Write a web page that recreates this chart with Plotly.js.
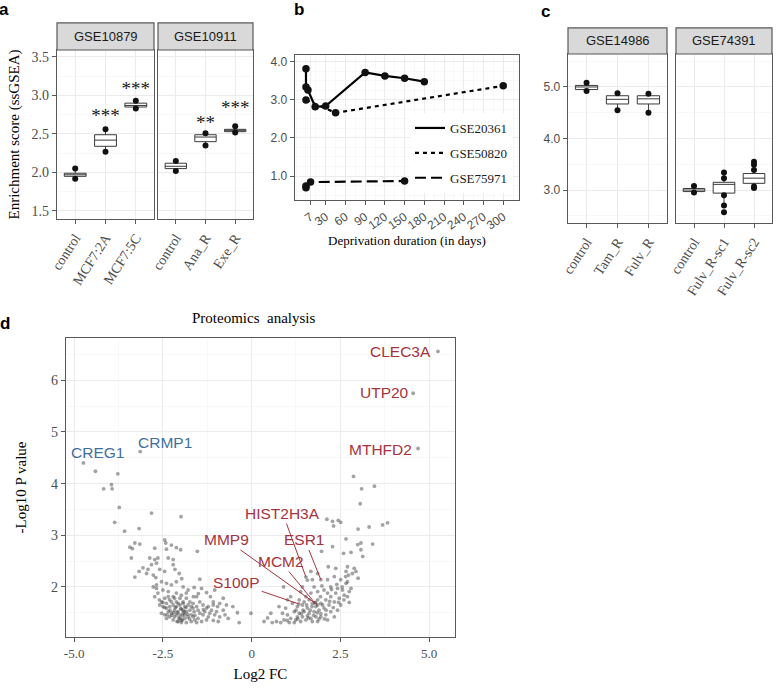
<!DOCTYPE html>
<html>
<head>
<meta charset="utf-8">
<script src="https://cdn.plot.ly/plotly-3.0.1.min.js"></script>
<style>
  body { margin: 0; background: #fff; }
  #plot { width: 778px; height: 688px; }
</style>
</head>
<body>
<div id="plot"></div>
<script>
// ---- panel a : ssGSEA enrichment, two datasets ----
const aCats1 = ['control', 'MCF7:2A', 'MCF7:5C'];
const aMin1 = [1.92, 2.27, 2.83];
const aQ1_1 = [1.95, 2.34, 2.85];
const aMed1 = [1.97, 2.42, 2.87];
const aQ3_1 = [1.99, 2.49, 2.90];
const aMax1 = [2.05, 2.56, 2.93];
const aStars1 = ['', '***', '***'];
const aStarY1 = [null, 2.72, 3.07];

const aCats2 = ['control', 'Ana_R', 'Exe_R'];
const aMin2 = [2.02, 2.35, 2.52];
const aQ1_2 = [2.05, 2.40, 2.53];
const aMed2 = [2.08, 2.46, 2.55];
const aQ3_2 = [2.12, 2.49, 2.56];
const aMax2 = [2.15, 2.51, 2.60];
const aStars2 = ['', '**', '***'];
const aStarY2 = [null, 2.63, 2.82];

// ---- panel b : score over deprivation time ----
const bDays20361 = [0, 0, 3, 14, 30, 90, 120, 150, 180];
const bScore20361 = [3.82, 3.34, 3.26, 2.82, 2.84, 3.72, 3.63, 3.57, 3.48];
const bDays50820 = [0, 45, 300];
const bScore50820 = [3.00, 2.66, 3.37];
const bDays75971 = [0, 0, 7, 150];
const bScore75971 = [0.69, 0.74, 0.84, 0.87];
const bTicks = [7, 30, 60, 90, 120, 150, 180, 210, 240, 270, 300];

// ---- panel c : two more datasets ----
const cCats1 = ['control', 'Tam_R', 'Fulv_R'];
const cMin1 = [4.92, 4.55, 4.50];
const cQ1_1 = [4.95, 4.67, 4.67];
const cMed1 = [5.00, 4.76, 4.77];
const cQ3_1 = [5.03, 4.83, 4.83];
const cMax1 = [5.08, 4.88, 4.87];

const cCats2 = ['control', 'Fulv_R-sc1', 'Fulv_R-sc2'];
const cMin2 = [2.95, 2.70, 3.04];
const cQ1_2 = [2.97, 2.94, 3.13];
const cMed2 = [3.00, 3.11, 3.23];
const cQ3_2 = [3.03, 3.15, 3.32];
const cMax2 = [3.08, 3.34, 3.55];
const cPtsCat2 = ['control', 'control', 'Fulv_R-sc1', 'Fulv_R-sc1', 'Fulv_R-sc1', 'Fulv_R-sc1', 'Fulv_R-sc1',
  'Fulv_R-sc2', 'Fulv_R-sc2', 'Fulv_R-sc2', 'Fulv_R-sc2', 'Fulv_R-sc2'];
const cPtsY2 = [3.08, 2.95, 3.34, 3.23, 2.90, 2.70, 2.57, 3.55, 3.49, 3.39, 3.07, 3.04];

// ---- panel d : proteomics volcano ----
const downFC = [
  -4.40, -3.77, -4.17, -3.95, -3.93, -3.73, -3.86, -2.82, -1.99, -3.58,
  -3.17, -3.43, -3.36, -3.29, -3.15, -3.39, -2.45, -2.42, -2.40, -2.73,
  -2.26, -2.12, -2.00, -1.53, -2.87, -2.73, -2.64, -2.35, -2.21, -2.82,
  -2.68, -3.06, -2.92, -3.17, -3.29, -2.96, -2.77, -2.70, -2.59, -2.45,
  -2.21, -2.16, -2.04, -1.97, -2.54, -2.40, -2.26, -2.68, -2.77, -2.12,
  -1.93, -1.79, -1.62, -1.46, -1.64, -1.50, -1.41, -1.27, -1.16, -1.04,
  -0.80, -0.71, -0.96, -1.08, -1.22, -1.36, -0.40, -0.02, -0.35, -0.53,
  -2.54, -2.45, -2.40, -2.31, -2.21, -2.31, -2.21, -2.12, -2.02, -1.93,
  -1.88, -1.98, -2.07, -2.17, -2.26, -2.35, -2.40, -2.50, -2.59, -2.45,
  -2.31, -2.17, -2.02, -1.93, -1.84, -1.74, -1.65, -1.55, -1.70, -1.79,
  -1.88, -1.98, -2.07, -1.98, -1.84, -1.70, -1.60, -1.51, -1.41, -1.55,
  -1.27, -1.08, -0.94, -0.90, -1.04, -1.18, -1.32, -1.46, -1.65, -1.74,
  -1.84, -1.98, -2.12, -2.35, -2.50, -2.64, -2.73, -2.68, -2.12, -2.02,
  -1.93, -2.21, -2.40, -2.54, -2.35, -2.26, -2.17, -2.07, -1.88, -1.79,
  -1.70, -1.51, -1.37, -1.22, -1.65, -2.02, -2.12, -1.93, -1.84, -1.55,
  -1.46, -1.37, -1.27, -1.13, -0.99, -0.80, -1.08, -0.90, -0.75, -0.66,
  -2.05, -1.95, -2.10, -1.90, -2.00, -1.85, -2.25, -2.15, -1.80, -1.75,
  -2.30, -2.45, -2.20, -1.95, -2.10, -1.60, -1.62, -2.38, -2.50, -2.60
];
const downLogP = [
  4.24, 4.19, 3.90, 3.98, 3.90, 3.54, 3.25, 3.43, 3.36, 3.08,
  3.13, 2.77, 2.74, 2.85, 2.83, 2.56, 2.91, 2.85, 2.73, 2.75,
  2.81, 2.76, 2.72, 2.69, 2.56, 2.53, 2.56, 2.56, 2.53, 2.43,
  2.46, 2.37, 2.34, 2.30, 2.19, 2.26, 2.23, 2.18, 2.34, 2.30,
  2.43, 2.34, 2.26, 2.16, 2.10, 2.07, 2.04, 2.04, 2.00, 2.10,
  2.00, 1.94, 1.99, 2.15, 1.81, 1.87, 1.97, 1.89, 1.81, 1.94,
  1.78, 1.65, 1.62, 1.65, 1.62, 1.56, 1.50, 1.49, 1.31, 1.62,
  1.71, 1.78, 1.68, 1.75, 1.81, 1.62, 1.65, 1.71, 1.78, 1.68,
  1.62, 1.57, 1.52, 1.55, 1.49, 1.52, 1.59, 1.62, 1.65, 1.46,
  1.42, 1.42, 1.46, 1.49, 1.52, 1.55, 1.59, 1.62, 1.46, 1.42,
  1.39, 1.35, 1.33, 1.31, 1.31, 1.33, 1.36, 1.39, 1.33, 1.31,
  1.36, 1.35, 1.33, 1.42, 1.46, 1.49, 1.52, 1.49, 1.68, 1.71,
  1.78, 1.84, 1.88, 1.91, 1.94, 1.88, 1.81, 1.97, 1.62, 1.65,
  1.55, 1.36, 1.39, 1.49, 1.81, 1.71, 1.78, 1.68, 1.46, 1.65,
  1.62, 1.55, 1.46, 1.42, 1.42, 1.39, 1.46, 1.71, 1.88, 1.81,
  1.71, 1.65, 1.59, 1.55, 1.52, 1.55, 1.71, 1.68, 1.46, 1.39,
  1.40, 1.44, 1.50, 1.52, 1.58, 1.60, 1.45, 1.60, 1.47, 1.38,
  1.55, 1.60, 1.50, 1.36, 1.33, 1.45, 1.52, 1.46, 1.70, 1.75
];
const upFC = [
  2.87, 3.10, 3.46, 3.06, 2.12, 2.28, 2.44, 2.51, 2.31, 3.00,
  3.31, 3.69, 3.83, 2.66, 2.99, 3.08, 3.41, 2.28, 1.97, 3.08,
  2.59, 2.80, 3.13, 2.89, 2.94, 3.00, 2.70, 2.66, 2.73, 2.37,
  2.16, 1.67, 1.86, 1.57, 2.14, 2.33, 2.51, 2.66, 2.23, 2.42,
  2.56, 2.04, 1.86, 1.67, 1.53, 1.34, 1.10, 1.01, 0.77, 0.54,
  0.35, 0.58, 0.91, 0.82, 0.90, 1.38, 1.43, 1.76, 1.71, 2.84,
  1.15, 1.29, 1.43, 1.57, 1.71, 1.81, 1.95, 2.09, 2.23, 2.37, 1.94, 2.14, 1.86, 1.62, 1.48,
  1.20, 1.34, 1.48, 1.62, 1.76, 1.90, 2.04, 2.18, 2.33, 2.47, 2.61,
  1.10, 1.24, 1.38, 1.53, 1.67, 1.81, 1.95, 2.09, 2.23, 1.43, 1.29, 1.57, 1.71,
  1.86, 2.14, 2.33, 2.42, 2.51, 2.70, 2.75, 2.80, 1.01, 0.87, 0.96, 1.06, 1.20,
  1.75, 1.65, 1.85, 1.95, 2.00, 1.55, 1.45, 1.30, 1.90, 2.10, 1.70, 1.80, 2.20, 1.60, 2.05,
  1.40, 2.30, 2.45, 2.55, 2.60, 2.40, 2.25, 1.98, 2.65, 2.70, 2.75, 1.25, 1.00, 0.70, 0.45
];
const upLogP = [
  4.14, 3.90, 3.95, 3.61, 3.31, 3.27, 3.29, 3.25, 3.18, 3.12,
  3.16, 3.20, 3.24, 2.93, 2.82, 2.85, 2.83, 2.78, 2.69, 2.72,
  2.65, 2.67, 2.59, 2.36, 2.30, 2.17, 2.39, 2.30, 2.23, 2.36,
  2.39, 2.30, 2.26, 2.13, 2.14, 2.20, 2.14, 2.07, 2.00, 1.97,
  1.94, 1.94, 1.91, 1.88, 1.81, 1.75, 1.81, 1.75, 1.62, 1.49,
  1.33, 1.31, 1.36, 1.31, 2.00, 1.91, 2.00, 2.00, 2.14, 2.26,
  1.68, 1.62, 1.65, 1.59, 1.68, 1.62, 1.68, 1.75, 1.81, 1.88, 1.81, 1.88, 1.75, 1.75, 1.71,
  1.52, 1.49, 1.52, 1.49, 1.52, 1.55, 1.59, 1.65, 1.71, 1.78, 1.84,
  1.39, 1.36, 1.33, 1.36, 1.39, 1.42, 1.42, 1.46, 1.52, 1.42, 1.42, 1.44, 1.33,
  1.33, 1.36, 1.42, 1.55, 1.65, 1.81, 1.91, 1.97, 1.46, 1.49, 1.59, 1.31, 1.31,
  1.45, 1.55, 1.50, 1.48, 1.65, 1.65, 1.55, 1.38, 1.38, 1.55, 1.62, 1.70, 1.72, 1.40, 1.38,
  1.48, 1.60, 1.70, 2.00, 1.75, 2.05, 1.95, 2.02, 2.20, 2.10, 1.70, 1.55, 1.35, 1.33, 1.40
];
const geneNames = ['CLEC3A', 'UTP20', 'MTHFD2', 'CREG1', 'CRMP1', 'HIST2H3A', 'ESR1', 'MMP9', 'MCM2', 'S100P'];
const geneFC = [5.25, 4.55, 4.69, -4.74, -3.14, 1.53, 1.95, 1.86, 1.78, 1.33];
const geneLogP = [6.56, 5.75, 4.68, 4.40, 4.62, 2.19, 2.14, 1.65, 1.69, 1.67];
// where the repelled labels sit (text centres)
const labelFC = [4.19, 3.74, 3.62, -4.35, -2.43, 0.88, 1.50, -0.71, 0.82, -0.42];
const labelLogP = [6.56, 5.77, 4.66, 4.60, 4.80, 3.42, 2.91, 2.91, 2.49, 2.08];

const serif = 'Liberation Serif, Times New Roman, serif';
const sans = 'Liberation Sans, Arial, sans-serif';
const red = '#a5333d';
const blue = '#3f6f9f';
const frameCol = '#595959';

function boxTrace(cats, lo, q1, med, q3, hi, xa, ya) {
  return {
    type: 'box', x: cats, lowerfence: lo, q1: q1, median: med, q3: q3, upperfence: hi,
    xaxis: xa, yaxis: ya, width: 0.72, whiskerwidth: 0, boxpoints: false,
    fillcolor: 'white', line: {color: '#3a3a3a', width: 1}, showlegend: false, hoverinfo: 'skip'
  };
}

function dots(x, y, xa, ya, size) {
  return {
    type: 'scatter', mode: 'markers', x: x, y: y, xaxis: xa, yaxis: ya,
    marker: {color: '#111', size: size}, showlegend: false, hoverinfo: 'skip'
  };
}

function stars(x, txt, y, xa, ya) {
  return {
    type: 'scatter', mode: 'text', x: x, y: y, text: txt, xaxis: xa, yaxis: ya,
    textfont: {family: serif, size: 19, color: '#1a1a1a'}, showlegend: false, hoverinfo: 'skip'
  };
}

const traces = [
  boxTrace(aCats1, aMin1, aQ1_1, aMed1, aQ3_1, aMax1, 'x', 'y'),
  dots(aCats1.concat(aCats1), aMin1.concat(aMax1), 'x', 'y', 6),
  stars(aCats1, aStars1, aStarY1, 'x', 'y'),
  boxTrace(aCats2, aMin2, aQ1_2, aMed2, aQ3_2, aMax2, 'x2', 'y2'),
  dots(aCats2.concat(aCats2), aMin2.concat(aMax2), 'x2', 'y2', 6),
  stars(aCats2, aStars2, aStarY2, 'x2', 'y2'),

  boxTrace(cCats1, cMin1, cQ1_1, cMed1, cQ3_1, cMax1, 'x4', 'y4'),
  dots(cCats1.concat(cCats1), cMin1.concat(cMax1), 'x4', 'y4', 6),
  boxTrace(cCats2, cMin2, cQ1_2, cMed2, cQ3_2, cMax2, 'x5', 'y5'),
  dots(cPtsCat2, cPtsY2, 'x5', 'y5', 6)
];

// panel b: lines in legend, markers on their own
const bSeries = [
  {name: 'GSE20361', x: bDays20361, y: bScore20361, dash: 'solid'},
  {name: 'GSE50820', x: bDays50820, y: bScore50820, dash: '4px,4px'},
  {name: 'GSE75971', x: bDays75971, y: bScore75971, dash: '11px,5px'}
];
bSeries.forEach(s => {
  traces.push({
    type: 'scatter', mode: 'lines', x: s.x, y: s.y, name: s.name, legendgroup: s.name,
    xaxis: 'x3', yaxis: 'y3', line: {color: '#000', width: 2.2, dash: s.dash}, hoverinfo: 'skip'
  });
});
bSeries.forEach(s => {
  traces.push(dots(s.x, s.y, 'x3', 'y3', 7.5));
});

// panel d points
traces.push({
  type: 'scatter', mode: 'markers', xaxis: 'x6', yaxis: 'y6',
  x: downFC.concat(upFC, geneFC), y: downLogP.concat(upLogP, geneLogP),
  marker: {color: 'rgba(50,50,50,0.45)', size: 3.8}, showlegend: false, hoverinfo: 'skip'
});

function axis(extra) {
  return Object.assign({
    showline: true, mirror: true, linecolor: frameCol, linewidth: 1.3,
    ticks: 'outside', ticklen: 4, tickcolor: frameCol, tickwidth: 1,
    showgrid: true, gridcolor: '#ebebeb', gridwidth: 1, zeroline: false,
    tickfont: {family: serif, size: 14, color: '#4d4d4d'}, fixedrange: true
  }, extra);
}
const minorGrid = d => ({dtick: d, tick0: 0, showgrid: true, gridcolor: '#f3f3f3', gridwidth: 0.6, ticks: ''});
const catAxis = (dom, anchor, cats) => axis({
  domain: dom, anchor: anchor, type: 'category', categoryorder: 'array', categoryarray: cats,
  range: [-0.6, 2.6], tickangle: -57
});

const annotations = [];
const shapes = [];

// panel letters
[['a', 4, 9], ['b', 299, 9], ['c', 545, 11], ['d', 5, 323]].forEach(([t, px, py]) => {
  annotations.push({
    text: '<b>' + t + '</b>', xref: 'paper', yref: 'paper', x: px / 778, y: 1 - py / 688,
    xanchor: 'center', yanchor: 'middle', showarrow: false, font: {family: sans, size: 17, color: '#000'}
  });
});

// facet strips
[['GSE10879', 'x', 'y', 0.16], ['GSE10911', 'x2', 'y2', 0.16],
 ['GSE14986', 'x4', 'y4', 0.154], ['GSE74391', 'x5', 'y5', 0.154]].forEach(([t, xa, ya, h]) => {
  shapes.push({
    type: 'rect', xref: xa + ' domain', yref: ya + ' domain', x0: 0, x1: 1, y0: 1, y1: 1 + h,
    fillcolor: '#d9d9d9', line: {color: frameCol, width: 1.2}, layer: 'above'
  });
  annotations.push({
    text: t, xref: xa + ' domain', yref: ya + ' domain', x: 0.5, y: 1 + h / 2,
    xanchor: 'center', yanchor: 'middle', showarrow: false, font: {family: sans, size: 13, color: '#1a1a1a'}
  });
});

annotations.push({
  text: 'Proteomics  analysis', xref: 'paper', yref: 'paper', x: 253 / 778, y: 1 - 318 / 688,
  xanchor: 'center', yanchor: 'middle', showarrow: false, font: {family: serif, size: 15, color: '#000'}
});

// gene labels
geneNames.forEach((g, i) => {
  const col = geneFC[i] > 0 ? red : blue;
  const withLine = i >= 5;
  const a = {
    text: g, xref: 'x6', yref: 'y6', font: {family: sans, size: 15.5, color: col},
    xanchor: 'center', yanchor: 'middle'
  };
  if (withLine) {
    Object.assign(a, {
      x: geneFC[i], y: geneLogP[i], ax: labelFC[i], ay: labelLogP[i], axref: 'x6', ayref: 'y6',
      showarrow: true, arrowhead: 0, arrowwidth: 1, arrowcolor: col, standoff: 0
    });
  } else {
    Object.assign(a, {x: labelFC[i], y: labelLogP[i], showarrow: false});
  }
  annotations.push(a);
});

const layout = {
  width: 778, height: 688,
  margin: {l: 0, r: 0, t: 0, b: 0},
  paper_bgcolor: '#fff', plot_bgcolor: '#fff',
  font: {family: serif, color: '#000'},
  showlegend: true,
  legend: {
    x: 410 / 778, y: 1 - 113 / 688, xanchor: 'left', yanchor: 'top',
    bgcolor: '#fff', borderwidth: 0, tracegroupgap: 5,
    font: {family: serif, size: 13, color: '#1a1a1a'}
  },
  hovermode: false,

  xaxis: catAxis([57 / 778, 154 / 778], 'y', aCats1),
  yaxis: axis({
    domain: [1 - 219 / 688, 1 - 50 / 688], anchor: 'x', range: [1.396, 3.59],
    tickvals: [1.5, 2, 2.5, 3, 3.5], tickformat: '.1f', minor: minorGrid(0.25),
    title: {text: 'Enrichment score (ssGSEA)', font: {family: serif, size: 15, color: '#000'}, standoff: 8}
  }),
  xaxis2: catAxis([158 / 778, 253 / 778], 'y2', aCats2),
  yaxis2: axis({
    domain: [1 - 219 / 688, 1 - 50 / 688], anchor: 'x2', matches: 'y', range: [1.396, 3.59],
    tickvals: [1.5, 2, 2.5, 3, 3.5], showticklabels: false, ticks: '', minor: minorGrid(0.25)
  }),

  xaxis3: axis({
    domain: [295 / 778, 519 / 778], anchor: 'y3', range: [-16.7, 324],
    tickvals: bTicks, tickangle: -35, tickfont: {family: sans, size: 12, color: '#4d4d4d'},
    minor: minorGrid(15),
    title: {text: 'Deprivation duration (in days)', font: {family: serif, size: 13, color: '#000'}, standoff: 0}
  }),
  yaxis3: axis({
    domain: [1 - 200 / 688, 1 - 55 / 688], anchor: 'x3', range: [0.37, 4.18],
    tickvals: [1, 2, 3, 4], tickformat: '.1f', tickfont: {family: sans, size: 12, color: '#4d4d4d'},
    minor: minorGrid(0.25)
  }),

  xaxis4: catAxis([568 / 778, 667 / 778], 'y4', cCats1),
  yaxis4: axis({
    domain: [1 - 223 / 688, 1 - 54 / 688], anchor: 'x4', range: [2.36, 5.64],
    tickvals: [3, 4, 5], tickformat: '.1f', tickfont: {family: sans, size: 12, color: '#4d4d4d'},
    minor: minorGrid(0.5)
  }),
  xaxis5: catAxis([676 / 778, 772 / 778], 'y5', cCats2),
  yaxis5: axis({
    domain: [1 - 223 / 688, 1 - 54 / 688], anchor: 'x5', matches: 'y4', range: [2.36, 5.64],
    tickvals: [3, 4, 5], showticklabels: false, ticks: '', minor: minorGrid(0.5)
  }),

  xaxis6: axis({
    domain: [66 / 778, 455 / 778], anchor: 'y6', range: [-5.23, 5.73],
    tickvals: [-5, -2.5, 0, 2.5, 5], ticktext: ['-5.0', '-2.5', '0', '2.5', '5.0'],
    tickfont: {family: serif, size: 13, color: '#4d4d4d'}, minor: minorGrid(1.25),
    title: {text: 'Log2 FC', font: {family: serif, size: 15, color: '#000'}, standoff: 8}
  }),
  yaxis6: axis({
    domain: [1 - 637 / 688, 1 - 338 / 688], anchor: 'x6', range: [1.03, 6.82],
    tickvals: [2, 3, 4, 5, 6], minor: minorGrid(0.5),
    title: {text: '-Log10 P value', font: {family: serif, size: 15, color: '#000'}, standoff: 20}
  }),

  shapes: shapes,
  annotations: annotations
};

Plotly.newPlot('plot', traces, layout, {staticPlot: true, displayModeBar: false});
</script>
</body>
</html>
